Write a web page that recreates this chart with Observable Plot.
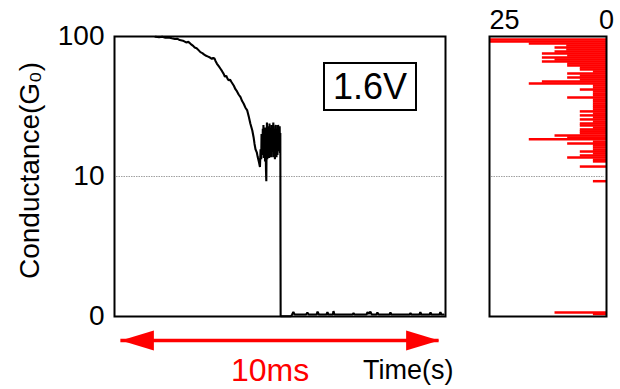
<!DOCTYPE html>
<html>
<head>
<meta charset="utf-8">
<script src="https://cdn.jsdelivr.net/npm/d3@7"></script>
<script src="https://cdn.jsdelivr.net/npm/@observablehq/plot@0.6"></script>
<style>
  html, body { margin: 0; padding: 0; background: #fff; }
  #wrap { position: relative; width: 620px; height: 389px; display: flex; background: #fff; }
  #wrap svg { display: block; }
  #vbox { position: absolute; left: 323px; top: 62px; width: 90px; height: 45px; border: 2px solid #000;
          font: 36px "Liberation Sans", Arial, sans-serif; line-height: 45px; text-align: center; color: #000; background: #fff; }
</style>
</head>
<body>
<div id="wrap"><div id="vbox">1.6V</div></div>
<script>
// Conductance trace (time in ms, conductance in G0)
const time = [
  1.29,1.40,1.50,1.60,1.70,1.80,1.90,1.97,2.05,2.15,2.25,2.32,2.39,2.46,2.52,2.58,2.64,2.70,2.76,2.82,
  2.88,2.94,3.00,3.06,3.10,3.14,3.17,3.22,3.28,3.33,3.38,3.43,3.47,3.51,3.55,3.59,3.63,3.67,3.71,3.75,
  3.80,3.85,3.90,3.96,4.01,4.06,4.11,4.17,4.22,4.27,4.33,4.37,4.40,4.43,4.47,4.50,4.54,4.57,
  4.59,4.61,4.62,4.64,4.65,4.66,4.67,4.68,4.69,4.70,4.71,4.72,4.73,4.74,4.75,4.76,4.77,4.78,4.79,4.80,
  4.81,4.82,4.83,4.84,4.85,4.86,4.87,4.88,4.89,4.90,4.91,4.92,4.93,4.94,4.95,4.96,4.97,4.98,4.99,5.00,
  5.01,5.02,5.03,5.04,5.05,5.06,5.07,5.08,5.09,5.10,5.11,5.12,5.13,5.14,5.15,5.16,5.17,5.18,5.19,5.20,5.21,5.22,
  5.55,5.58,5.62,5.66,5.85,6.02,6.06,6.10,6.35,6.38,6.42,6.66,6.69,6.72,6.86,6.88,6.91,7.48,7.51,7.54,
  7.92,7.95,7.99,8.04,8.08,8.23,8.26,8.30,8.64,8.67,8.70,9.27,9.30,9.33,9.58,9.61,9.64,9.90,9.93,9.96,
  10.21,10.24,10.27,10.34
];
const conductance = [
  99.5,98.8,99.7,98.0,98.6,97.2,96.0,96.6,94.5,93.6,91.0,91.8,89.0,86.5,84.0,83.0,80.5,78.0,76.8,75.0,
  73.5,72.6,71.5,70.0,71.2,70.5,68.0,64.7,62.0,59.8,57.5,55.1,52.5,53.5,51.0,49.5,50.2,48.5,47.0,45.5,
  43.0,41.5,39.5,37.8,35.5,34.0,32.0,30.5,27.5,24.5,21.9,19.6,17.5,16.0,15.2,14.0,12.8,11.8,
  16.0,13.5,20.7,14.5,17.0,22.5,15.5,24.0,13.8,21.5,15.0,23.0,13.0,19.5,16.5,11.0,9.2,18.0,25.0,13.5,
  14.5,23.5,15.5,22.0,16.0,13.8,24.6,17.0,18.0,22.5,21.0,14.5,14.0,24.0,23.0,15.5,17.0,22.0,25.0,14.0,
  15.5,20.5,22.0,13.5,16.5,23.5,24.0,15.0,14.0,22.0,21.0,14.5,17.0,24.0,23.0,15.5,16.0,22.5,23.5,15.0,21.0,0.005,
  0.005,0.04,0.09,0.04,0.04,0.04,0.08,0.04,0.04,0.10,0.04,0.04,0.09,0.04,0.04,0.11,0.04,0.04,0.07,0.04,
  0.04,0.09,0.05,0.10,0.04,0.04,0.08,0.04,0.04,0.08,0.04,0.04,0.07,0.04,0.04,0.09,0.04,0.04,0.08,0.04,
  0.04,0.09,0.04,0.04
];
// Histogram of conductance (bin conductance in G0, counts)
const binConductance = [
  95.3,92.4,89.5,86.7,84.0,81.3,78.8,76.3,73.9,71.6,69.3,67.2,65.0,63.0,61.0,59.1,57.2,55.4,53.6,52.0,
  50.3,48.7,47.2,45.7,44.2,42.8,41.5,40.1,38.9,37.6,36.4,35.3,34.1,33.0,32.0,30.95,30.0,29.0,28.1,27.2,
  26.3,25.4,24.6,23.8,23.0,22.3,21.6,20.9,20.2,19.5,18.9,18.2,17.6,17.1,16.5,15.9,15.4,14.9,14.4,13.9,
  13.4,13.0,11.9,9.2,0.08,0.05
];
const binCount = [
  25,25,16.5,8.5,11,8.5,11,13.7,8.3,13.7,11,13.7,8.3,8.3,5.6,5.6,2.8,8.3,5.6,8.3,
  5.6,13.7,16.5,2.8,2.8,5.6,2.8,2.8,2.8,8.3,2.8,2.8,2.8,2.8,2.8,2.8,5.6,2.8,5.6,2.8,
  5.6,2.8,5.6,5.6,2.8,5.6,5.6,5.6,11,8.3,16.5,2.8,8.3,2.8,2.8,2.8,5.6,2.8,5.6,8.3,
  2.8,2.8,5.6,2.8,11,2.8
];
const yTicks = [0, 10, 100];
const yTickLabels = ["0", "10", "100"];
const countTicks = [25, 0];
const scaleBar = {from: 0.2, to: 10.2, label: "10ms"};
const gridValue = 10;
const yLabel = "Conductance(G\u2080)";
const xLabel = "Time(s)";

const trace = time.map((t, i) => ({t, g: conductance[i]}));
const hist = binConductance.map((g, i) => ({g, n: binCount[i]}));

const font = "'Liberation Sans', Arial, sans-serif";
const yScale = {type: "symlog", constant: 1.25, domain: [0, 100]};

// left arrowhead symbol: tip at origin, pointing left
const headSymbol = {
  draw(ctx) {
    ctx.moveTo(0, 0);
    ctx.lineTo(33, -10);
    ctx.lineTo(33, 10);
    ctx.closePath();
  }
};

const main = Plot.plot({
  width: 470, height: 389,
  marginLeft: 114, marginRight: 25, marginTop: 36, marginBottom: 73,
  style: {fontFamily: font, background: "#fff", color: "#000", overflow: "visible"},
  x: {domain: [0, 10.4], axis: null},
  y: {...yScale, axis: null},
  marks: [
    Plot.ruleY([gridValue], {stroke: "#888", strokeWidth: 0.8, strokeDasharray: "1.5,1", inset: 2}),
    Plot.line(trace, {x: "t", y: "g", stroke: "#000", strokeWidth: 2.1, strokeLinejoin: "miter"}),
    Plot.frame({stroke: "#000", strokeWidth: 2}),
    Plot.axisY(yTicks, {tickSize: 0, tickPadding: 10, fontSize: 28, label: null,
      tickFormat: d => yTickLabels[yTicks.indexOf(d)]}),
    Plot.text([yLabel], {text: d => d, frameAnchor: "left", textAnchor: "middle", lineAnchor: "middle",
      rotate: -90, dx: -84, dy: -6, fontSize: 28}),
    Plot.ruleY([0], {x1: scaleBar.from, x2: scaleBar.to, dy: 24, stroke: "#ff0000", strokeWidth: 3.5, inset: 0}),
    Plot.dot([scaleBar.from], {x: d => d, y: 0, dy: 24, symbol: headSymbol, fill: "#ff0000", stroke: null, rotate: 0}),
    Plot.dot([scaleBar.to], {x: d => d, y: 0, dy: 24, symbol: headSymbol, fill: "#ff0000", stroke: null, rotate: 180}),
    Plot.text([scaleBar], {x: d => (d.from + d.to) / 2, y: 0, text: "label", dx: -10, dy: 54,
      fill: "#ff0000", fontSize: 32, lineAnchor: "middle"}),
    Plot.text([xLabel], {text: d => d, frameAnchor: "bottom-right", textAnchor: "end", lineAnchor: "middle",
      dx: 8, dy: 54, fontSize: 27})
  ]
});

const histPlot = Plot.plot({
  width: 150, height: 389,
  marginLeft: 19, marginRight: 14, marginTop: 36, marginBottom: 73,
  style: {fontFamily: font, background: "#fff", color: "#000", overflow: "visible"},
  x: {domain: [25, 0], axis: null},
  y: {...yScale, axis: null},
  marks: [
    Plot.ruleY([gridValue], {stroke: "#888", strokeWidth: 0.8, strokeDasharray: "1.5,1", inset: 2}),
    Plot.ruleY(hist, {y: "g", x1: 0, x2: "n", stroke: "#ff0000", strokeWidth: 2.5}),
    Plot.frame({stroke: "#000", strokeWidth: 2}),
    Plot.axisX([countTicks[0]], {anchor: "top", tickSize: 0, tickPadding: 8, fontSize: 27, textAnchor: "start", label: null}),
    Plot.axisX([countTicks[1]], {anchor: "top", tickSize: 0, tickPadding: 8, fontSize: 27, label: null})
  ]
});

const wrap = document.getElementById("wrap");
wrap.insertBefore(histPlot, wrap.firstChild);
wrap.insertBefore(main, wrap.firstChild);
</script>
</body>
</html>
